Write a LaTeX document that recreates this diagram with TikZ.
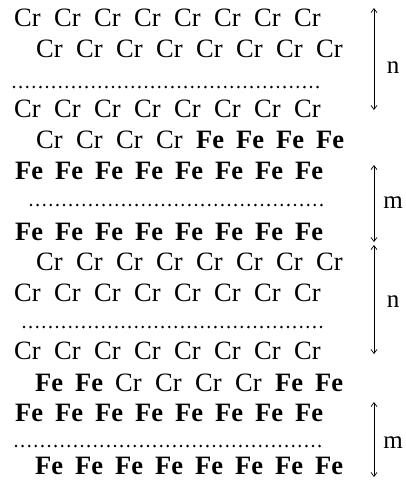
\documentclass[tikz,border=0pt]{standalone}
\usepackage{fontspec}
\setmainfont{Liberation Serif}
\usetikzlibrary{arrows.meta}
\newcommand\FeB{\textbf{Fe}}
\newcommand\CrA{Cr}
\tikzset{
  atom/.style={inner sep=0pt, anchor=base west, font=\fontsize{26.5}{30}\selectfont},
  dots/.style={line width=2.8pt, line cap=round, dash pattern=on 0pt off 6.6pt},
  span/.style={line width=0.7pt, {Straight Barb[length=4pt,width=6pt]}-{Straight Barb[length=4pt,width=6pt]}},
  lbl/.style={inner sep=0pt, font=\fontsize{25}{28}\selectfont}
}
\begin{document}
\begin{tikzpicture}[x=1pt,y=-1pt]
\useasboundingbox (0,0) rectangle (406,480);
% rows: name, x start, baseline, content
\def\row#1#2#3#4{\foreach \w [count=\i] in {#4} \node[atom] (#1-\i) at ({#2+40*(\i-1)},#3) {\w};}
\row{ra}{14}{26}{\CrA,\CrA,\CrA,\CrA,\CrA,\CrA,\CrA,\CrA}
\row{rb}{36}{57}{\CrA,\CrA,\CrA,\CrA,\CrA,\CrA,\CrA,\CrA}
\row{rc}{14}{117}{\CrA,\CrA,\CrA,\CrA,\CrA,\CrA,\CrA,\CrA}
\row{rd}{36}{148}{\CrA,\CrA,\CrA,\CrA,\FeB,\FeB,\FeB,\FeB}
\row{re}{15}{179}{\FeB,\FeB,\FeB,\FeB,\FeB,\FeB,\FeB,\FeB}
\row{rf}{15}{240}{\FeB,\FeB,\FeB,\FeB,\FeB,\FeB,\FeB,\FeB}
\row{rg}{36}{270}{\CrA,\CrA,\CrA,\CrA,\CrA,\CrA,\CrA,\CrA}
\row{rh}{14}{301}{\CrA,\CrA,\CrA,\CrA,\CrA,\CrA,\CrA,\CrA}
\row{ri}{14}{359}{\CrA,\CrA,\CrA,\CrA,\CrA,\CrA,\CrA,\CrA}
\row{rj}{35}{391}{\FeB,\FeB,\CrA,\CrA,\CrA,\CrA,\FeB,\FeB}
\row{rk}{15}{421}{\FeB,\FeB,\FeB,\FeB,\FeB,\FeB,\FeB,\FeB}
\row{rl}{35}{474}{\FeB,\FeB,\FeB,\FeB,\FeB,\FeB,\FeB,\FeB}
% dotted lines
\coordinate (d1a) at (14,87);  \coordinate (d1b) at (323,87);
\coordinate (d2a) at (31,205); \coordinate (d2b) at (325,205);
\coordinate (d3a) at (24,327); \coordinate (d3b) at (325,327);
\coordinate (d4a) at (16,446); \coordinate (d4b) at (325,446);
\draw[dots] (d1a) -- (d1b);
\draw[dots] (d2a) -- (d2b);
\draw[dots] (d3a) -- (d3b);
\draw[dots] (d4a) -- (d4b);
% span arrows
\coordinate (a1t) at (374,8);   \coordinate (a1b) at (374,110);
\coordinate (a2t) at (374,165); \coordinate (a2b) at (374,242);
\coordinate (a3t) at (374,245); \coordinate (a3b) at (374,354);
\coordinate (a4t) at (374,402); \coordinate (a4b) at (374,477);
\draw[span] (a1t) -- (a1b);
\draw[span] (a2t) -- (a2b);
\draw[span] (a3t) -- (a3b);
\draw[span] (a4t) -- (a4b);
\node[lbl] (ln1) at (393,68) {n};
\node[lbl] (lm1) at (393,203) {m};
\node[lbl] (ln2) at (393,302) {n};
\node[lbl] (lm2) at (393,443) {m};
\end{tikzpicture}
\end{document}
